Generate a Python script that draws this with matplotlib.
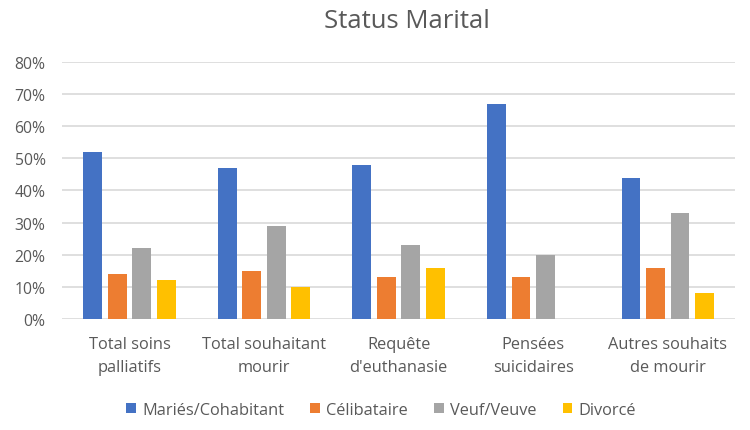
import numpy as np
import matplotlib.pyplot as plt
from matplotlib.ticker import PercentFormatter

categories = ["Total soins\npalliatifs", "Total souhaitant\nmourir", "Requête\nd'euthanasie",
              "Pensées\nsuicidaires", "Autres souhaits\nde mourir"]
maries = [52, 47, 48, 67, 44]
celibataire = [14, 15, 13, 13, 16]
veuf = [22, 29, 23, 20, 33]
divorce = [12, 10, 16, 0, 8]

series = [("Mariés/Cohabitant", maries, "#4472C4"),
          ("Célibataire", celibataire, "#ED7D31"),
          ("Veuf/Veuve", veuf, "#A5A5A5"),
          ("Divorcé", divorce, "#FFC000")]

plt.rcParams['font.family'] = ['Open Sans', 'DejaVu Sans']
txt = "#595959"

fig = plt.figure(figsize=(7.5, 4.31), dpi=100)
ax = fig.add_axes([0.083, 0.2575, 0.897, 0.5965])

x = np.arange(len(categories))
w = 0.14
step = 0.182
for i, (name, vals, col) in enumerate(series):
    ax.bar(x + (i - 1.5) * step, vals, w, color=col, label=name, zorder=3)

ax.set_ylim(0, 80)
ax.set_xlim(-0.5, len(categories) - 0.5)
ax.set_yticks(range(0, 81, 10))
ax.yaxis.set_major_formatter(PercentFormatter(decimals=0))
ax.set_xticks(x)
ax.set_xticklabels(categories, linespacing=1.6)
ax.grid(axis='y', color="#D9D9D9", linewidth=1.2, zorder=0)
for s in ax.spines.values():
    s.set_visible(False)
ax.tick_params(length=0, colors=txt)
ax.tick_params(axis='y', labelsize=11.3, pad=12)
ax.tick_params(axis='x', labelsize=11.8, pad=12)

fig.suptitle("Status Marital", x=0.543, y=0.98, fontsize=18.5, color=txt)
fig.legend(loc='center', bbox_to_anchor=(0.508, 0.046), ncol=4, frameon=False,
           fontsize=11.8, labelcolor=txt, handlelength=0.58, handleheight=0.58,
           columnspacing=1.6, handletextpad=0.38)

fig.savefig("out.png", dpi=100)
